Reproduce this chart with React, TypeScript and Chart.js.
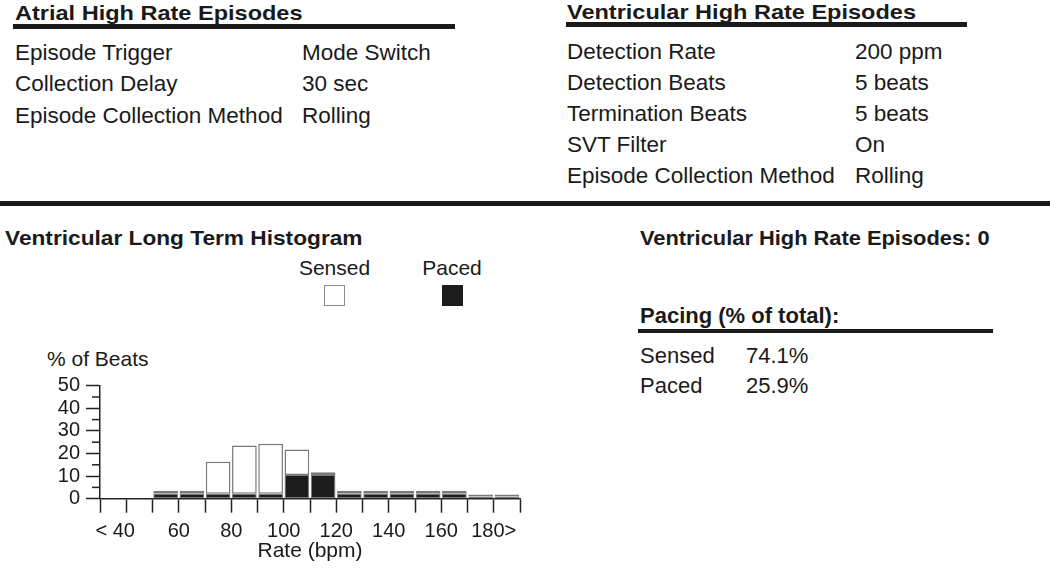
import React, { useEffect, useRef } from "react";
import { Chart, registerables } from "chart.js";

Chart.register(...registerables);

// ---- Data ----
const rateBins = ["<40", "40-50", "50-60", "60-70", "70-80", "80-90", "90-100", "100-110", "110-120", "120-130", "130-140", "140-150", "150-160", "160-170", "170-180", ">180"];
const pacedPct = [0, 0, 2.2, 2.2, 2.2, 2.2, 2.2, 10.5, 10.5, 2.2, 2.2, 2.2, 2.2, 2.2, 1, 1];
const sensedPct = [0, 0, 1.3, 1.3, 14.2, 21.3, 22.1, 11.3, 1.2, 1.3, 1.3, 1.3, 1.3, 1.3, 0.9, 0.9];
const rateTickValues = [40, 60, 80, 100, 120, 140, 160, 180];
const rateTickLabels = ["< 40    ", "60", "80", "100", "120", "140", "160", "180>"];
const yMajorTicks = [0, 10, 20, 30, 40, 50];
const yMinorTicks = [5, 15, 25, 35, 45];

const atrialRows: [string, string][] = [
  ["Episode Trigger", "Mode Switch"],
  ["Collection Delay", "30 sec"],
  ["Episode Collection Method", "Rolling"],
];
const ventRows: [string, string][] = [
  ["Detection Rate", "200 ppm"],
  ["Detection Beats", "5 beats"],
  ["Termination Beats", "5 beats"],
  ["SVT Filter", "On"],
  ["Episode Collection Method", "Rolling"],
];
const pacingRows: [string, string][] = [
  ["Sensed", "74.1%"],
  ["Paced", "25.9%"],
];

const FONT = "'Liberation Sans', Arial, Helvetica, sans-serif";
const INK = "#1a1a1a";

function T(props: { x: number; base: number; size: number; bold?: boolean; center?: boolean; sx?: number; children: React.ReactNode }) {
  const { x, base, size, bold, center, sx, children } = props;
  const top = base - 0.8465 * size;
  return (
    <div
      style={{
        position: "absolute",
        left: center ? x - 200 : x,
        width: center ? 400 : undefined,
        textAlign: center ? "center" : "left",
        top,
        fontSize: size,
        lineHeight: `${size}px`,
        fontWeight: bold ? 700 : 400,
        fontFamily: FONT,
        color: INK,
        whiteSpace: "nowrap",
        transform: sx ? `scaleX(${sx})` : undefined,
        transformOrigin: "left center",
      }}
    >
      {children}
    </div>
  );
}

function Rule(props: { x: number; y: number; w: number; h: number }) {
  return <div style={{ position: "absolute", left: props.x, top: props.y, width: props.w, height: props.h, background: INK }} />;
}

const minorTicksPlugin = {
  id: "minorTicks",
  afterDraw(chart: any) {
    const y = chart.scales.y;
    const ctx = chart.ctx;
    ctx.save();
    ctx.strokeStyle = "#222";
    ctx.lineWidth = 1.5;
    yMinorTicks.forEach((v) => {
      const py = y.getPixelForValue(v);
      ctx.beginPath();
      ctx.moveTo(y.right - 8, py);
      ctx.lineTo(y.right, py);
      ctx.stroke();
    });
    ctx.restore();
  },
};

function Histogram() {
  const ref = useRef<HTMLCanvasElement | null>(null);
  useEffect(() => {
    if (!ref.current) return;
    const chart = new Chart(ref.current, {
      type: "bar",
      data: {
        labels: rateBins,
        datasets: [
          {
            label: "Paced",
            data: pacedPct,
            xAxisID: "x",
            backgroundColor: "#1c1c1c",
            borderColor: "#7a7a7a",
            borderWidth: 1,
            borderSkipped: false,
            categoryPercentage: 0.94,
            barPercentage: 1,
          },
          {
            label: "Sensed",
            data: sensedPct,
            xAxisID: "x",
            backgroundColor: "#ffffff",
            borderColor: "#7a7a7a",
            borderWidth: 1.5,
            borderSkipped: false,
            categoryPercentage: 0.94,
            barPercentage: 1,
          },
        ],
      },
      options: {
        animation: false,
        responsive: false,
        maintainAspectRatio: false,
        layout: { padding: { top: 25.7, right: 40, left: 0, bottom: 0 } },
        plugins: { legend: { display: false }, tooltip: { enabled: false } },
        scales: {
          x: {
            type: "category",
            stacked: true,
            offset: true,
            weight: 0,
            grid: { offset: true, drawOnChartArea: false, drawTicks: true, tickLength: 14, tickWidth: 1.5, tickColor: "#222" },
            border: { display: true, color: "#222", width: 1.5 },
            ticks: { display: false },
            afterFit: (s: any) => {
              s.height = 14;
            },
          },
          x2: {
            type: "linear",
            position: "bottom",
            weight: 1,
            offset: false,
            min: 30,
            max: 190,
            grid: { display: false, drawTicks: false, offset: false },
            border: { display: false },
            afterBuildTicks: (s: any) => {
              s.ticks = rateTickValues.map((v) => ({ value: v }));
            },
            ticks: {
              autoSkip: false,
              maxRotation: 0,
              minRotation: 0,
              padding: 7,
              color: INK,
              font: { size: 20, family: FONT },
              callback: (v: any) => {
                const i = rateTickValues.indexOf(Number(v));
                return i >= 0 ? rateTickLabels[i] : "";
              },
            },
            title: { display: true, text: "Rate (bpm)", color: INK, font: { size: 21, family: FONT }, padding: { top: 0, bottom: 7 } },
            afterFit: (s: any) => {
              s.height = 58.3;
            },
          },
          y: {
            type: "linear",
            stacked: true,
            min: 0,
            max: 50,
            afterBuildTicks: (s: any) => {
              s.ticks = yMajorTicks.map((v) => ({ value: v }));
            },
            grid: { drawOnChartArea: false, tickLength: 14, tickWidth: 1.5, tickColor: "#222" },
            border: { display: true, color: "#222", width: 1.5 },
            ticks: { autoSkip: false, padding: 6, color: INK, font: { size: 20, family: FONT } },
            afterFit: (s: any) => {
              s.width = 100;
            },
          },
        },
      },
      plugins: [minorTicksPlugin],
    } as any);
    return () => chart.destroy();
  }, []);
  return (
    <div style={{ position: "absolute", left: 0, top: 360, width: 560, height: 211 }}>
      <canvas ref={ref} width={560} height={211} style={{ display: "block", width: 560, height: 211 }} />
    </div>
  );
}

export default function App() {
  return (
    <div style={{ position: "absolute", left: 0, top: 0, width: 1050, height: 571, overflow: "hidden", background: "#fff" }}>
      {/* Atrial section */}
      <T x={15} base={19.5} size={21} bold sx={1.12}>Atrial High Rate Episodes</T>
      <Rule x={13} y={24} w={442} h={5} />
      {atrialRows.map(([k, v], i) => (
        <React.Fragment key={k}>
          <T x={15} base={61 + i * 31.5} size={22.5}>{k}</T>
          <T x={302} base={61 + i * 31.5} size={22.5}>{v}</T>
        </React.Fragment>
      ))}

      {/* Ventricular section */}
      <T x={567} base={18.5} size={21} bold sx={1.12}>Ventricular High Rate Episodes</T>
      <Rule x={566} y={22} w={401} h={5} />
      {ventRows.map(([k, v], i) => (
        <React.Fragment key={k}>
          <T x={567} base={60 + i * 30.9} size={22.5}>{k}</T>
          <T x={855} base={60 + i * 30.9} size={22.5}>{v}</T>
        </React.Fragment>
      ))}

      <Rule x={0} y={201} w={1050} h={5} />

      {/* Lower section */}
      <T x={5} base={244.5} size={21} bold sx={1.08}>Ventricular Long Term Histogram</T>
      <T x={334.5} base={275} size={21} center>Sensed</T>
      <T x={452} base={275} size={21} center>Paced</T>
      <div style={{ position: "absolute", left: 324, top: 285, width: 21, height: 21, boxSizing: "border-box", border: "1.5px solid #8a8a8a", background: "#fff" }} />
      <div style={{ position: "absolute", left: 442, top: 285, width: 21, height: 21, background: "#1c1c1c" }} />
      <T x={47} base={366} size={21}>% of Beats</T>

      <T x={640} base={244.5} size={21} bold sx={1.04}>Ventricular High Rate Episodes: 0</T>
      <T x={640} base={324} size={22} bold>Pacing (% of total):</T>
      <Rule x={638} y={329} w={355} h={4} />
      {pacingRows.map(([k, v], i) => (
        <React.Fragment key={k}>
          <T x={640} base={364 + i * 30} size={22}>{k}</T>
          <T x={746} base={364 + i * 30} size={22}>{v}</T>
        </React.Fragment>
      ))}

      <Histogram />
    </div>
  );
}
